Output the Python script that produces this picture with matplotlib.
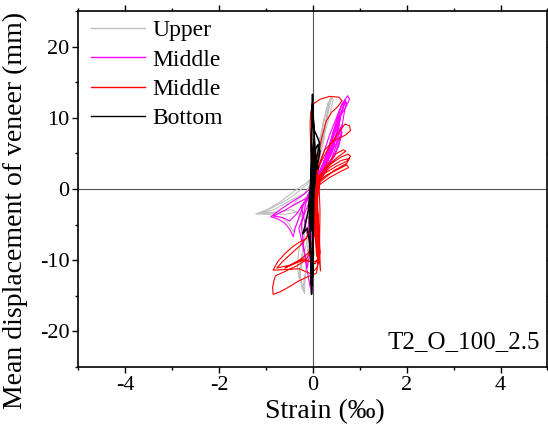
import numpy as np
import matplotlib
matplotlib.use("Agg")
import matplotlib.pyplot as plt
from matplotlib.ticker import MultipleLocator

plt.rcParams['font.family'] = ['Liberation Serif', 'DejaVu Serif']
plt.rcParams['axes.unicode_minus'] = False

# strain (per mille) vs. mean veneer displacement (mm), one loop record per gauge row
upper_x = [0.00, 0.05, 0.10, 0.14, 0.10, 0.04, -0.05, -0.20, -0.35, -0.45, -0.30, -0.12, 0.00,
           0.08, 0.16, 0.22, 0.28, 0.33, 0.30, 0.22, 0.12, 0.03, -0.10, -0.30, -0.55, -0.80, -1.00, -1.22,
           -1.00, -0.80, -0.62, -0.50, -0.42, -0.35, -0.25, -0.15, -0.05,
           0.05, 0.18, 0.28, 0.36, 0.40, 0.43, 0.38, 0.28, 0.15, 0.05, -0.15, -0.40, -0.70, -0.95, -1.15,
           -0.95, -0.70, -0.45, -0.25, -0.20, -0.22, -0.28, -0.25, -0.18, -0.17, -0.12, -0.08, -0.02,
           0.10, 0.20, 0.25, 0.20, 0.08, -0.05, -0.15, -0.30, -0.33, -0.30, -0.25, -0.15, -0.05, 0.00,
           0.12, 0.25, 0.35, 0.38, 0.33, 0.20, 0.05, -0.15, -0.45, -0.80, -1.10,
           -0.85, -0.60, -0.35, -0.15, -0.20, -0.30, -0.22, -0.12, -0.05, 0.00]
upper_y = [0.0, 2.5, 5.0, 7.2, 6.0, 3.0, 0.5, -0.8, -1.6, -2.4, -2.0, -1.0, 0.8,
           3.5, 6.5, 9.0, 11.0, 12.2, 11.2, 9.5, 6.0, 2.5, 0.8, -0.3, -1.5, -2.4, -3.0, -3.5,
           -3.55, -3.7, -4.2, -5.0, -6.0, -5.0, -3.5, -1.8, 0.2,
           2.8, 6.5, 9.5, 11.8, 12.9, 12.5, 11.0, 8.5, 5.0, 2.0, 0.8, -0.3, -1.8, -2.8, -3.4,
           -3.3, -3.2, -2.9, -3.6, -6.0, -9.0, -11.5, -13.0, -14.7, -12.5, -9.0, -5.0, -1.0,
           3.5, 6.5, 7.5, 6.0, 2.5, -1.5, -5.0, -8.5, -11.0, -12.5, -11.0, -8.0, -4.0, 0.0,
           4.0, 8.5, 12.0, 13.0, 11.5, 7.0, 2.0, -0.5, -1.5, -2.8, -3.4,
           -3.4, -3.6, -3.2, -4.0, -8.0, -12.0, -14.2, -10.0, -4.0, 0.0]

middle_m_x = [0.00, 0.10, 0.25, 0.40, 0.48, 0.42, 0.25, 0.08, -0.10, -0.25, -0.18, -0.12, -0.08, 0.00,
              0.12, 0.30, 0.48, 0.58, 0.55, 0.40, 0.20, 0.02, -0.20, -0.45, -0.70, -0.90,
              -0.75, -0.60, -0.50, -0.42, -0.38, -0.30, -0.22, -0.10,
              0.05, 0.20, 0.35, 0.50, 0.62, 0.74, 0.78, 0.70, 0.58, 0.45, 0.30, 0.15, 0.00,
              -0.15, -0.25, -0.20, -0.15, -0.08, -0.03, -0.05, -0.02, 0.03,
              0.15, 0.35, 0.55, 0.62, 0.55, 0.38, 0.20, 0.00, -0.15, -0.30, -0.25, -0.18, -0.12,
              -0.08, -0.02, 0.00, 0.20, 0.40, 0.60, 0.70, 0.60, 0.45, 0.25, 0.05,
              0.10, 0.30, 0.50, 0.62, 0.56, 0.42, 0.28, 0.12, 0.02,
              0.20, 0.45, 0.58, 0.66, 0.72, 0.66, 0.52, 0.38, 0.22, 0.05,
              -0.10, -0.35, -0.60, -0.85, -0.65, -0.50, -0.35, -0.20, 0.00]
middle_m_y = [0.0, 2.0, 4.0, 6.0, 7.2, 6.0, 3.5, 1.0, -1.0, -2.5, -4.5, -6.5, -4.0, -1.0,
              2.0, 5.0, 8.0, 9.8, 8.5, 6.0, 3.0, 0.5, -0.8, -1.8, -2.9, -3.9,
              -4.2, -4.8, -5.6, -6.7, -5.5, -4.0, -2.5, -0.8,
              1.5, 4.5, 7.5, 10.0, 12.0, 13.1, 12.6, 11.5, 10.2, 8.0, 5.0, 2.5, 0.2,
              -2.0, -5.0, -8.0, -10.5, -13.0, -14.7, -12.0, -8.0, -4.0,
              1.0, 3.5, 6.0, 8.0, 7.0, 4.0, 2.0, -0.5, -3.0, -5.5, -7.0, -9.0, -11.0,
              -9.5, -6.0, -2.0, 2.5, 5.0, 10.5, 12.5, 11.5, 8.5, 4.0, 0.5,
              1.5, 3.8, 6.5, 9.0, 8.2, 5.8, 3.6, 1.8, 0.0,
              2.2, 4.5, 7.0, 10.5, 12.2, 11.8, 9.5, 6.5, 3.0, 0.5,
              -1.2, -2.0, -3.0, -3.8, -4.0, -4.5, -3.5, -2.0, -0.5]

middle_r_x = [0.00, 0.10, 0.30, 0.55, 0.72, 0.76, 0.60, 0.35, 0.12, 0.08, 0.10, 0.12, 0.08, 0.05, 0.03, 0.02,
              0.15, 0.40, 0.60, 0.75, 0.80, 0.72, 0.50, 0.25, 0.10, 0.10, 0.12, 0.10, 0.00, -0.20, -0.40,
              -0.60, -0.45, -0.25, -0.10, 0.05, 0.08,
              0.12, 0.30, 0.50, 0.65, 0.70, 0.55, 0.30, 0.12, 0.08, 0.12, 0.15, 0.05, -0.20, -0.50,
              -0.77, -0.65, -0.45, -0.25, -0.10, 0.05,
              0.05, 0.15, 0.35, 0.55, 0.68, 0.78, 0.80, 0.70, 0.45, 0.25, 0.10, 0.05, 0.10, 0.12, 0.10,
              -0.05, -0.30, -0.55, -0.85, -0.75, -0.60, -0.45, -0.30, -0.15, -0.02, 0.00,
              -0.03, -0.05, -0.06, -0.05, 0.02, 0.15, 0.35, 0.55, 0.62, 0.52, 0.40, 0.28, 0.18, 0.10,
              0.06, 0.10, 0.12, 0.08, -0.10, -0.30, -0.55, -0.72, -0.85, -0.86, -0.83, -0.80, -0.60,
              -0.35, -0.15, 0.00, 0.05, 0.05,
              0.12, 0.15, 0.14, 0.16, 0.12, 0.10, 0.08,
              0.10, 0.35, 0.60, 0.78, 0.72, 0.45, 0.15, 0.06, 0.09, 0.11, 0.07, 0.04]
middle_r_y = [0.0, 1.0, 2.0, 2.8, 3.4, 3.0, 2.5, 1.6, 0.5, -2.0, -5.0, -8.0, -9.5, -7.0, -3.0, 0.5,
              2.0, 3.6, 4.5, 4.9, 4.6, 3.9, 3.2, 2.2, 1.0, -3.0, -7.0, -10.0, -10.3, -10.0, -10.5,
              -11.1, -10.6, -9.8, -9.0, -6.0, -2.0,
              1.5, 3.5, 5.0, 5.5, 5.3, 4.6, 3.2, 1.5, -1.0, -5.0, -9.0, -10.5, -9.8, -10.7,
              -11.1, -10.2, -9.0, -7.8, -6.5, -3.0,
              1.0, 3.5, 6.0, 8.0, 9.1, 8.9, 8.2, 7.6, 6.8, 5.5, 3.0, 0.0, -4.0, -8.0, -11.0,
              -11.9, -11.2, -11.3, -11.4, -10.2, -9.1, -8.2, -7.5, -7.0, -5.0, -1.0,
              3.0, 6.0, 9.0, 10.8, 12.0, 12.6, 13.0, 12.9, 12.4, 11.5, 10.8, 9.5, 7.0, 4.0,
              0.5, -4.0, -9.0, -11.8, -12.3, -12.9, -13.9, -14.5, -14.8, -13.8, -12.8, -12.2, -11.6,
              -10.8, -10.0, -8.0, -4.0, 0.0,
              2.0, -3.0, -8.0, -11.5, -9.0, -4.0, 1.0,
              1.2, 3.0, 4.0, 4.3, 3.6, 2.6, 1.0, -2.0, -6.0, -10.5, -7.0, -2.0]

bottom_x = [0.00, 0.02, 0.04, 0.02, -0.01, -0.04, -0.08, -0.05, -0.02, 0.00,
            0.05, 0.10, 0.14, 0.08, 0.03, 0.00, -0.01, -0.02, -0.03, -0.02, -0.05, -0.10, -0.18, -0.22,
            -0.12, -0.06, -0.04, -0.03, -0.01, 0.00, 0.01, 0.02,
            0.06, 0.12, 0.15, 0.10, 0.05, 0.02, 0.00, -0.03, -0.06, -0.05, -0.03, -0.02, 0.00, 0.00,
            0.03, 0.08, 0.11, 0.06, 0.01, -0.01, -0.04, -0.02, 0.01, -0.01, 0.00]
bottom_y = [0.0, 2.0, 4.5, 7.0, 3.0, -1.0, -4.0, -6.0, -3.0, 0.5,
            3.5, 5.0, 6.5, 7.5, 8.2, 10.5, 13.3, 11.0, 8.0, 5.0, 1.0, -3.0, -5.5, -6.3,
            -5.5, -8.0, -11.0, -14.8, -12.0, -9.0, -5.0, -1.0,
            2.5, 4.2, 5.3, 6.2, 5.5, 4.0, 1.0, -2.0, -6.5, -10.0, -13.5, -10.0, -6.0, 0.0,
            2.5, 3.8, 2.8, 4.5, 9.0, 12.0, 6.0, -4.0, -9.0, -12.5, -2.0]

labels = ['Upper', 'Middle', 'Middle', 'Bottom']
colors = ['#c0c0c0', '#ff00ff', '#ff0000', '#000000']

fig = plt.figure(figsize=(5.48, 4.26), dpi=100)
ax = fig.add_axes([0.1432, 0.1385, 0.8558, 0.8357])

ax.axhline(0, color='#555555', lw=0.8, zorder=1)
ax.axvline(0, color='#555555', lw=0.8, zorder=1)

series = [(upper_x, upper_y), (middle_m_x, middle_m_y), (middle_r_x, middle_r_y), (bottom_x, bottom_y)]
for (xs, ys), lab, c in zip(series, labels, colors):
    lw = 1.1 if c == '#000000' else 0.8
    ax.plot(xs, ys, color=c, lw=lw, label=lab, zorder=2)

ax.set_xlim(-5, 5)
ax.set_ylim(-25, 25)
ax.xaxis.set_major_locator(MultipleLocator(2))
ax.xaxis.set_minor_locator(MultipleLocator(1))
ax.yaxis.set_major_locator(MultipleLocator(10))
ax.yaxis.set_minor_locator(MultipleLocator(5))
ax.tick_params(which='both', direction='out', top=True, right=True, labelsize=16, width=1)
ax.tick_params(which='major', length=4, pad=2.5)
ax.tick_params(which='minor', length=2.5)
for s in ax.spines.values():
    s.set_linewidth(1.2)

ax.set_xlabel('Strain (‰)', fontsize=20)
ax.set_ylabel('Mean displacement of veneer (mm)', fontsize=20)
ax.xaxis.set_label_coords(0.525, -0.09)
ax.yaxis.set_label_coords(-0.108, 0.441)

leg = ax.legend(loc='upper left', bbox_to_anchor=(0.026, 0.975), frameon=False, fontsize=17,
                handlelength=2.3, handletextpad=0.3, labelspacing=0.33, borderpad=0, borderaxespad=0)
for h in leg.get_lines():
    h.set_linewidth(1.0)

ax.text(0.985, 0.04, 'T2_O_100_2.5', transform=ax.transAxes, ha='right', va='bottom', fontsize=18)

fig.savefig('out.png', dpi=100)
